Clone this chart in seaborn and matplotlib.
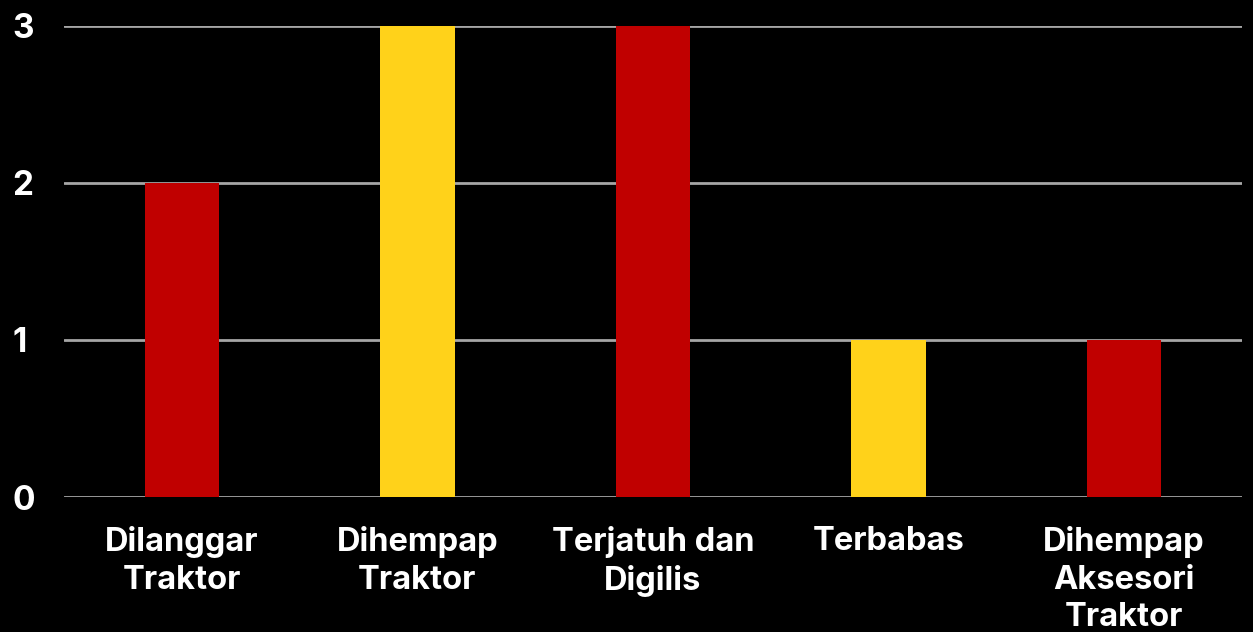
import matplotlib
matplotlib.use("Agg")
import matplotlib.pyplot as plt
import seaborn as sns
import pandas as pd

categories = ["Dilanggar\nTraktor", "Dihempap\nTraktor", "Terjatuh dan\nDigilis", "Terbabas", "Dihempap\nAksesori\nTraktor"]
values = [2, 3, 3, 1, 1]
bar_colors = ["#C00000", "#FFD21A", "#C00000", "#FFD21A", "#C00000"]
yticks = [0, 1, 2, 3]

sns.set_style("dark")
plt.rcParams["font.family"] = ["Inter", "DejaVu Sans"]

df = pd.DataFrame({"cat": categories, "val": values})

fig = plt.figure(figsize=(12.53, 6.32), dpi=100, facecolor="black")
ax = fig.add_axes([0.0511, 0.2136, 0.9401, 0.7453])
ax.set_facecolor("black")

sns.barplot(data=df, x="cat", y="val", hue="cat", palette=bar_colors,
            width=0.315, legend=False, ax=ax, saturation=1, zorder=3,
            linewidth=0, edgecolor="none")

ax.set_ylim(0, 3)
ax.set_xlim(-0.5, 4.5)
ax.set_yticks(yticks)
ax.set_yticklabels([str(t) for t in yticks])
ax.grid(axis="y", color="#A6A6A6", linewidth=2, zorder=0)
ax.grid(axis="x", visible=False)
for s in ax.spines.values():
    s.set_visible(False)
ax.set_xlabel("")
ax.set_ylabel("")
ax.tick_params(axis="both", length=0, colors="white")
ax.tick_params(axis="y", pad=37)
ax.tick_params(axis="x", pad=21)
for lbl in ax.get_yticklabels():
    lbl.set_fontsize(24)
    lbl.set_fontweight("bold")
    lbl.set_color("white")
    lbl.set_horizontalalignment("left")
for lbl in ax.get_xticklabels():
    lbl.set_fontsize(23.5)
    lbl.set_fontweight("bold")
    lbl.set_color("white")
    lbl.set_linespacing(1.27)

fig.savefig("out.png", dpi=100, facecolor="black")
